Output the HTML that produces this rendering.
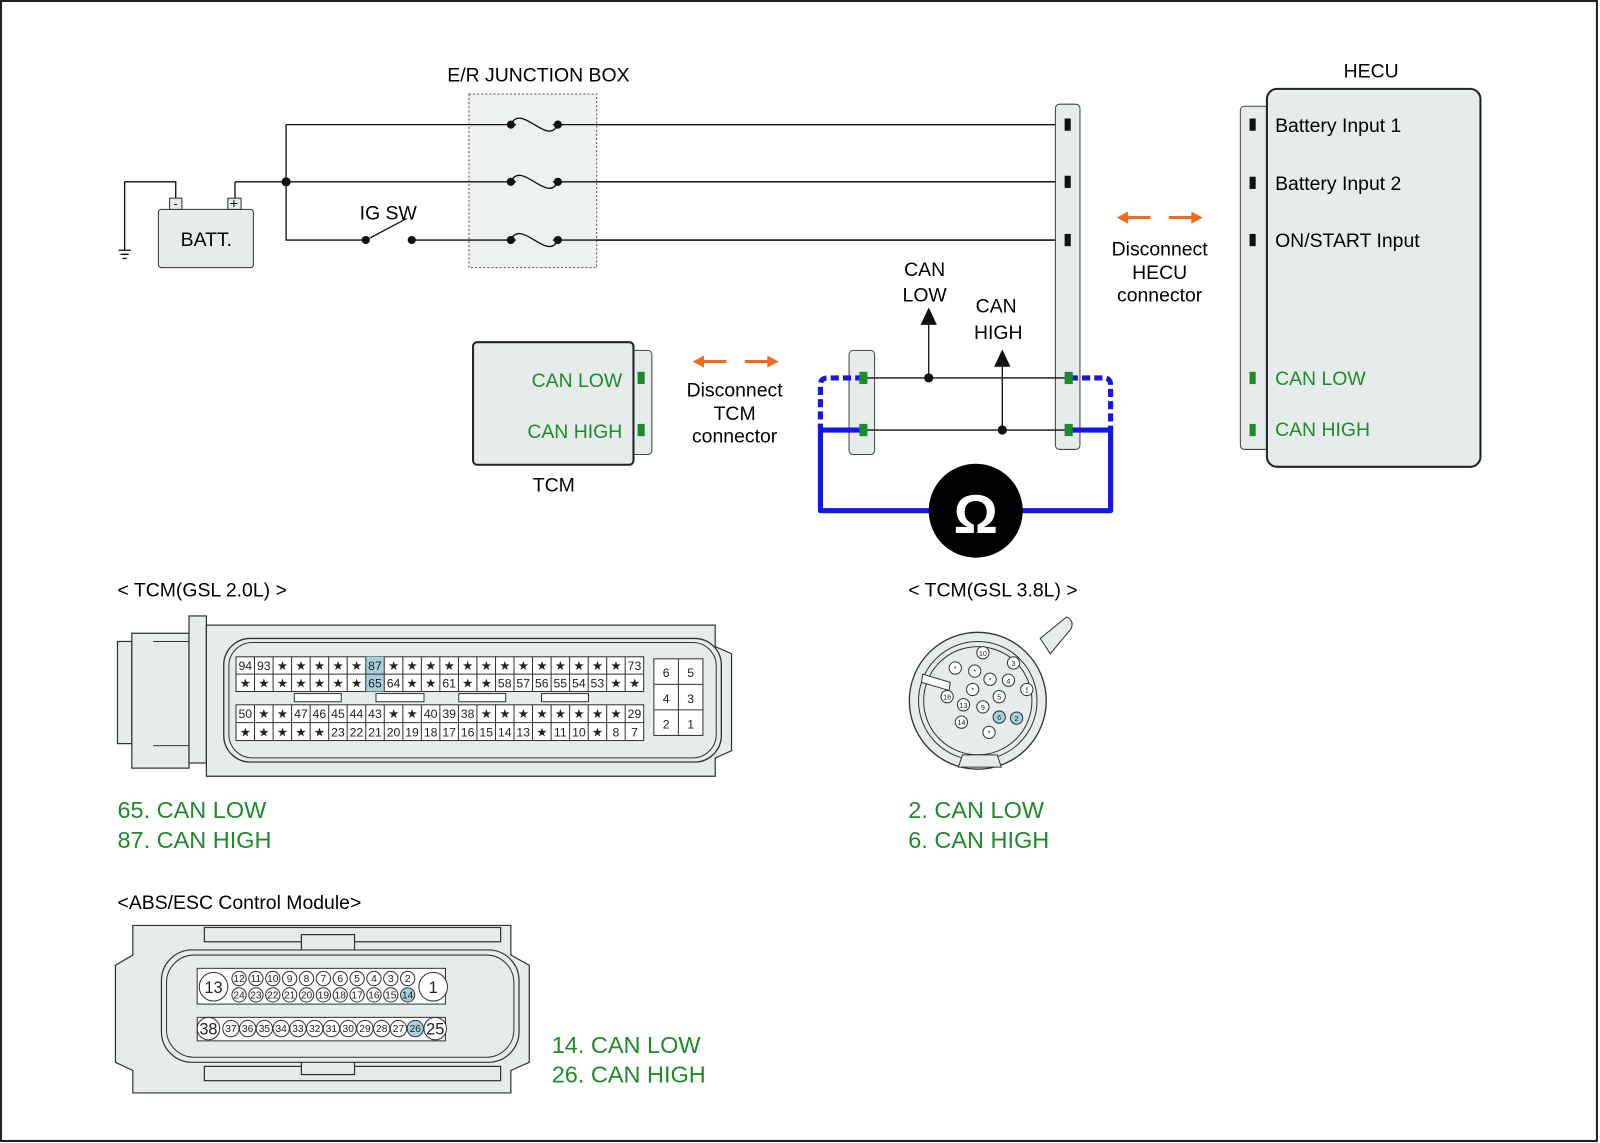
<!DOCTYPE html>
<html><head><meta charset="utf-8"><style>
html,body{margin:0;padding:0;background:#fff}
svg{display:block}
text{font-family:"Liberation Sans",sans-serif}
</style></head><body>
<svg width="1600" height="1143" viewBox="0 0 1566 1119" preserveAspectRatio="none" xmlns="http://www.w3.org/2000/svg">
<rect x="1" y="1" width="1562" height="1116" fill="#fff" stroke="#222" stroke-width="2"/>
<defs>
<marker id="ah" markerWidth="8" markerHeight="8" refX="6" refY="4" orient="auto" markerUnits="userSpaceOnUse"><path d="M0,0 L8,4 L0,8 z" fill="#f26b1d"/></marker>
</defs>
<!-- wiring top -->
<g stroke="#111" stroke-width="1.3" fill="none">
<path d="M280,122 H1035 M280,122 V235 H358 M403,235 H1035 M230,178 H1035 M230,178 V196 M172,196 V178 H122 V245"/>
<path d="M362,233 L398,214"/>
<path d="M116,245 H128 M118,249 H126 M120,253 H124"/>
</g>
<g fill="#111">
<circle cx="280" cy="178" r="4.5"/>
<circle cx="358" cy="235" r="4"/><circle cx="403" cy="235" r="4"/>
</g>
<rect x="155" y="205" width="93" height="57" rx="3" fill="#e6ecec" stroke="#333"/>
<rect x="166" y="194" width="12" height="11" fill="#e6ecec" stroke="#333"/>
<rect x="223" y="194" width="13" height="11" fill="#e6ecec" stroke="#333"/>
<text x="172" y="203" font-size="12" text-anchor="middle">-</text>
<text x="229" y="204" font-size="14" text-anchor="middle">+</text>
<text x="202" y="241" font-size="19" text-anchor="middle">BATT.</text>
<text x="380" y="215" font-size="19" text-anchor="middle">IG SW</text>
<rect x="459" y="92" width="125" height="170" fill="#eef1f1" stroke="#555" stroke-dasharray="2,2"/>
<text x="527" y="80" font-size="19" text-anchor="middle">E/R JUNCTION BOX</text>
<g stroke="#111" stroke-width="1.3" fill="none">
<path d="M459,122 H1035 M459,178 H1035 M459,235 H1035"/>
</g>
<g fill="#eef1f1"><rect x="505" y="110" width="36" height="20"/><rect x="505" y="166" width="36" height="20"/><rect x="505" y="223" width="36" height="20"/></g>
<g stroke="#111" stroke-width="1.3" fill="none">
<path d="M500,122 C510,100 536,144 546,122 M500,178 C510,156 536,200 546,178 M500,235 C510,213 536,257 546,235"/>
</g>
<g fill="#111"><circle cx="500" cy="122" r="4"/><circle cx="546" cy="122" r="4"/><circle cx="500" cy="178" r="4"/><circle cx="546" cy="178" r="4"/><circle cx="500" cy="235" r="4"/><circle cx="546" cy="235" r="4"/></g>
<!-- HECU connector strip -->
<rect x="1033" y="102" width="24" height="338" rx="4" fill="#e6ecec" stroke="#444"/>
<g fill="#111"><rect x="1042" y="116" width="6" height="12"/><rect x="1042" y="172" width="6" height="12"/><rect x="1042" y="229" width="6" height="12"/></g>
<!-- HECU -->
<text x="1342" y="76" font-size="19" text-anchor="middle">HECU</text>
<rect x="1214" y="104" width="28" height="336" rx="4" fill="#e6ecec" stroke="#444"/>
<rect x="1240" y="87" width="209" height="370" rx="10" fill="#e6ecec" stroke="#222" stroke-width="2"/>
<g fill="#111"><rect x="1223" y="116" width="6" height="12"/><rect x="1223" y="173" width="6" height="12"/><rect x="1223" y="229" width="6" height="12"/></g>
<g fill="#1e8a2a"><rect x="1223" y="364" width="6" height="12"/><rect x="1223" y="415" width="6" height="12"/></g>
<g font-size="19"><text x="1248" y="129">Battery Input 1</text><text x="1248" y="186">Battery Input 2</text><text x="1248" y="242">ON/START Input</text>
<text x="1248" y="377" fill="#1e8a2a">CAN LOW</text><text x="1248" y="427" fill="#1e8a2a">CAN HIGH</text></g>
<!-- orange arrows -->
<g stroke="#f26b1d" stroke-width="3" fill="none">
<path d="M1102,213 H1126 M1144,213 H1168" />
<path d="M687,354 H711 M729,354 H753"/>
</g>
<g fill="#f26b1d">
<path d="M1093,213 l11,-6 v12 z"/><path d="M1177,213 l-11,-6 v12 z"/>
<path d="M678,354 l11,-6 v12 z"/><path d="M762,354 l-11,-6 v12 z"/>
</g>
<g font-size="19" text-anchor="middle">
<text x="1135" y="250">Disconnect</text><text x="1135" y="273">HECU</text><text x="1135" y="295">connector</text>
<text x="719" y="388">Disconnect</text><text x="719" y="411">TCM</text><text x="719" y="433">connector</text>
<text x="905" y="270">CAN</text><text x="905" y="295">LOW</text>
<text x="975" y="306">CAN</text><text x="977" y="332">HIGH</text>
</g>
<!-- TCM -->
<rect x="618" y="343" width="20" height="102" rx="4" fill="#e6ecec" stroke="#444"/>
<rect x="463" y="335" width="157" height="120" rx="4" fill="#e6ecec" stroke="#222" stroke-width="2"/>
<g fill="#1e8a2a"><rect x="624" y="364" width="7" height="12"/><rect x="624" y="415" width="7" height="12"/></g>
<g font-size="19" fill="#1e8a2a" text-anchor="end"><text x="609" y="379">CAN LOW</text><text x="609" y="429">CAN HIGH</text></g>
<text x="542" y="481" font-size="19" text-anchor="middle">TCM</text>
<!-- middle connector -->
<rect x="831" y="343" width="25" height="102" rx="4" fill="#e6ecec" stroke="#444"/>
<!-- blue meter wiring -->
<g stroke="#1515e6" stroke-width="5" fill="none" stroke-linejoin="round">
<path d="M845,421 H803 V500 H1087 V421 H1047"/>
<path d="M845,370 H810 Q803,370 803,377 V421 M1047,370 H1080 Q1087,370 1087,377 V421" stroke-dasharray="8,4"/>
</g>
<g stroke="#111" stroke-width="1.3" fill="none"><path d="M845,370 H1047 M845,421 H1047 M909,370 V318 M981,421 V358"/></g>
<g fill="#111"><circle cx="909" cy="370" r="4.5"/><circle cx="981" cy="421" r="4.5"/>
<path d="M909,301 l-8,17 h16 z"/><path d="M981,342 l-8,17 h16 z"/></g>
<g fill="#1e8a2a"><rect x="841" y="364" width="8" height="12"/><rect x="841" y="415" width="8" height="12"/><rect x="1042" y="364" width="8" height="12"/><rect x="1042" y="415" width="8" height="12"/></g>
<circle cx="955" cy="500" r="46" fill="#000"/>
<text x="955" y="522" font-size="54" font-weight="bold" fill="#fff" text-anchor="middle" font-family="Liberation Serif,serif">Ω</text>

<!-- TCM 2.0L -->
<text x="115" y="584" font-size="19">&lt; TCM(GSL 2.0L) &gt;</text>
<g fill="#e6ecec" stroke="#333" stroke-width="1.2">
<rect x="115" y="628" width="14" height="100"/>
<path d="M129,620 H185 V752 H129 Z"/>
<rect x="185" y="603" width="17" height="144"/>
<path d="M202,612 H700 V633 L716,640 V735 L700,742 V760 H202 Z"/>
</g>
<path d="M150,628 L185,628 M150,730 L185,730" stroke="#333"/>
<rect x="219" y="625" width="487" height="121" rx="26" fill="#e6ecec" stroke="#333" stroke-width="1.3"/>
<rect x="224" y="629" width="477" height="113" rx="23" fill="none" stroke="#333"/>
<g fill="#fff" stroke="#333" stroke-width="1">
<rect x="231" y="643" width="399" height="34"/><rect x="231" y="690" width="399" height="35"/>
<rect x="640" y="645" width="48" height="75"/>
<rect x="288" y="679" width="46" height="8"/><rect x="368" y="679" width="47" height="8"/><rect x="449" y="679" width="46" height="8"/><rect x="530" y="679" width="46" height="8"/>
</g>
<rect x="358" y="643" width="18" height="34" fill="#a9cfdc"/>
<g stroke="#333" stroke-width="1" fill="none">
<path d="M231,660 H630 M231,707.5 H630 M640,670 H688 M640,695 H688 M664,645 V720"/>
<path d="M249.1,643V677M267.3,643V677M285.4,643V677M303.6,643V677M321.7,643V677M339.8,643V677M358,643V677M376.1,643V677M394.3,643V677M412.4,643V677M430.5,643V677M448.7,643V677M466.8,643V677M485,643V677M503.1,643V677M521.2,643V677M539.4,643V677M557.5,643V677M575.7,643V677M593.8,643V677M611.9,643V677"/>
<path d="M249.1,690V725M267.3,690V725M285.4,690V725M303.6,690V725M321.7,690V725M339.8,690V725M358,690V725M376.1,690V725M394.3,690V725M412.4,690V725M430.5,690V725M448.7,690V725M466.8,690V725M485,690V725M503.1,690V725M521.2,690V725M539.4,690V725M557.5,690V725M575.7,690V725M593.8,690V725M611.9,690V725"/>
</g>
<g font-size="12" text-anchor="middle" fill="#222">
<text x="240.1" y="656">94</text><text x="258.2" y="656">93</text><text x="276.4" y="656">★</text><text x="294.5" y="656">★</text><text x="312.6" y="656">★</text><text x="330.8" y="656">★</text><text x="348.9" y="656">★</text><text x="367" y="656">87</text><text x="385.2" y="656">★</text><text x="403.3" y="656">★</text><text x="421.5" y="656">★</text><text x="439.6" y="656">★</text><text x="457.7" y="656">★</text><text x="475.9" y="656">★</text><text x="494" y="656">★</text><text x="512.1" y="656">★</text><text x="530.3" y="656">★</text><text x="548.4" y="656">★</text><text x="566.6" y="656">★</text><text x="584.7" y="656">★</text><text x="602.8" y="656">★</text><text x="621" y="656">73</text>
<text x="240.1" y="673">★</text><text x="258.2" y="673">★</text><text x="276.4" y="673">★</text><text x="294.5" y="673">★</text><text x="312.6" y="673">★</text><text x="330.8" y="673">★</text><text x="348.9" y="673">★</text><text x="367" y="673">65</text><text x="385.2" y="673">64</text><text x="403.3" y="673">★</text><text x="421.5" y="673">★</text><text x="439.6" y="673">61</text><text x="457.7" y="673">★</text><text x="475.9" y="673">★</text><text x="494" y="673">58</text><text x="512.1" y="673">57</text><text x="530.3" y="673">56</text><text x="548.4" y="673">55</text><text x="566.6" y="673">54</text><text x="584.7" y="673">53</text><text x="602.8" y="673">★</text><text x="621" y="673">★</text>
<text x="240.1" y="703">50</text><text x="258.2" y="703">★</text><text x="276.4" y="703">★</text><text x="294.5" y="703">47</text><text x="312.6" y="703">46</text><text x="330.8" y="703">45</text><text x="348.9" y="703">44</text><text x="367" y="703">43</text><text x="385.2" y="703">★</text><text x="403.3" y="703">★</text><text x="421.5" y="703">40</text><text x="439.6" y="703">39</text><text x="457.7" y="703">38</text><text x="475.9" y="703">★</text><text x="494" y="703">★</text><text x="512.1" y="703">★</text><text x="530.3" y="703">★</text><text x="548.4" y="703">★</text><text x="566.6" y="703">★</text><text x="584.7" y="703">★</text><text x="602.8" y="703">★</text><text x="621" y="703">29</text>
<text x="240.1" y="721">★</text><text x="258.2" y="721">★</text><text x="276.4" y="721">★</text><text x="294.5" y="721">★</text><text x="312.6" y="721">★</text><text x="330.8" y="721">23</text><text x="348.9" y="721">22</text><text x="367" y="721">21</text><text x="385.2" y="721">20</text><text x="403.3" y="721">19</text><text x="421.5" y="721">18</text><text x="439.6" y="721">17</text><text x="457.7" y="721">16</text><text x="475.9" y="721">15</text><text x="494" y="721">14</text><text x="512.1" y="721">13</text><text x="530.3" y="721">★</text><text x="548.4" y="721">11</text><text x="566.6" y="721">10</text><text x="584.7" y="721">★</text><text x="602.8" y="721">8</text><text x="621" y="721">7</text>
<text x="652" y="663">6</text><text x="676" y="663">5</text><text x="652" y="688">4</text><text x="676" y="688">3</text><text x="652" y="713">2</text><text x="676" y="713">1</text>
</g>
<g font-size="23" fill="#1e8a2a"><text x="115" y="801">65. CAN LOW</text><text x="115" y="830">87. CAN HIGH</text>
<text x="889" y="801">2. CAN LOW</text><text x="889" y="830">6. CAN HIGH</text>
<text x="540" y="1031">14. CAN LOW</text><text x="540" y="1060">26. CAN HIGH</text></g>

<!-- TCM 3.8L -->
<text x="889" y="584" font-size="19">&lt; TCM(GSL 3.8L) &gt;</text>
<path d="M1018,625 L1044,604 Q1052,608 1048,616 L1028,640 Z" fill="#e6ecec" stroke="#333"/>
<circle cx="957" cy="686" r="67" fill="#e6ecec" stroke="#333" stroke-width="1.3"/>
<circle cx="957" cy="686" r="58" fill="#e6ecec" stroke="#333"/>
<circle cx="957" cy="686" r="53" fill="#e6ecec" stroke="#333"/>
<path d="M903,660 L930,668 L929,676 L902,668 Z" fill="#fff" stroke="#333"/>
<path d="M942,739 H976 L980,751 H938 Z" fill="#e6ecec" stroke="#333"/>
<g fill="#fff" stroke="#333" stroke-width="1">
<circle cx="962" cy="639" r="6"/><circle cx="992" cy="649" r="6"/><circle cx="935" cy="654" r="6"/><circle cx="954" cy="657" r="6"/><circle cx="969" cy="665" r="6"/><circle cx="987" cy="666" r="6"/><circle cx="1005" cy="675" r="6"/><circle cx="952" cy="675" r="6"/><circle cx="927" cy="682" r="6"/><circle cx="978" cy="682" r="6"/><circle cx="943" cy="690" r="6"/><circle cx="962" cy="692" r="6"/><circle cx="941" cy="707" r="6"/><circle cx="968" cy="717" r="6"/>
<circle cx="978" cy="702" r="6" fill="#a9cfdc"/><circle cx="995" cy="703" r="6" fill="#a9cfdc"/>
</g>
<g font-size="7" text-anchor="middle" fill="#222">
<text x="962" y="642">10</text><text x="992" y="652">3</text><text x="935" y="657">*</text><text x="954" y="660">*</text><text x="969" y="668">*</text><text x="987" y="669">4</text><text x="1005" y="678">1</text><text x="952" y="678">*</text><text x="927" y="685">16</text><text x="978" y="685">5</text><text x="943" y="693">13</text><text x="962" y="695">9</text><text x="941" y="710">14</text><text x="968" y="720">*</text><text x="978" y="705">6</text><text x="995" y="706">2</text>
</g>

<!-- ABS -->
<text x="115" y="890" font-size="19">&lt;ABS/ESC Control Module&gt;</text>
<g fill="#e6ecec" stroke="#333" stroke-width="1.2">
<path d="M130,906 H500 V935 L518,945 V1040 L500,1048 V1070 H130 V1048 L113,1040 V945 L130,935 Z"/>
<rect x="200" y="908" width="290" height="14"/>
<rect x="295" y="915" width="52" height="22"/>
<rect x="200" y="1044" width="290" height="14"/>
<rect x="295" y="1030" width="52" height="22"/>
<rect x="158" y="930" width="350" height="110" rx="30"/>
</g>
<rect x="163" y="935" width="340" height="100" rx="27" fill="none" stroke="#333"/>
<g stroke="#333" stroke-width="1" fill="#fff">
<rect x="193" y="948" width="243" height="35"/><rect x="193" y="996" width="243" height="23"/>
<circle cx="209" cy="966" r="14"/><circle cx="424" cy="966" r="14"/>
<circle cx="204" cy="1007" r="11"/><circle cx="426" cy="1007" r="11"/>
<g>
<circle cx="234" cy="958" r="7"/><circle cx="250.5" cy="958" r="7"/><circle cx="267" cy="958" r="7"/><circle cx="283.5" cy="958" r="7"/><circle cx="300" cy="958" r="7"/><circle cx="316.5" cy="958" r="7"/><circle cx="333" cy="958" r="7"/><circle cx="349.5" cy="958" r="7"/><circle cx="366" cy="958" r="7"/><circle cx="382.5" cy="958" r="7"/><circle cx="399" cy="958" r="7"/>
<circle cx="234" cy="974" r="7"/><circle cx="250.5" cy="974" r="7"/><circle cx="267" cy="974" r="7"/><circle cx="283.5" cy="974" r="7"/><circle cx="300" cy="974" r="7"/><circle cx="316.5" cy="974" r="7"/><circle cx="333" cy="974" r="7"/><circle cx="349.5" cy="974" r="7"/><circle cx="366" cy="974" r="7"/><circle cx="382.5" cy="974" r="7"/><circle cx="399" cy="974" r="7" fill="#a9cfdc"/>
<circle cx="226" cy="1007" r="8"/><circle cx="242.4" cy="1007" r="8"/><circle cx="258.8" cy="1007" r="8"/><circle cx="275.2" cy="1007" r="8"/><circle cx="291.6" cy="1007" r="8"/><circle cx="308" cy="1007" r="8"/><circle cx="324.4" cy="1007" r="8"/><circle cx="340.8" cy="1007" r="8"/><circle cx="357.2" cy="1007" r="8"/><circle cx="373.6" cy="1007" r="8"/><circle cx="390" cy="1007" r="8"/><circle cx="406.5" cy="1007" r="8" fill="#a9cfdc"/>
</g></g>
<g font-size="16" text-anchor="middle" fill="#222"><text x="209" y="972">13</text><text x="424" y="972">1</text><text x="204" y="1013">38</text><text x="426" y="1013">25</text></g>
<g font-size="10" text-anchor="middle" fill="#222">
<text x="234" y="961.5">12</text><text x="250.5" y="961.5">11</text><text x="267" y="961.5">10</text><text x="283.5" y="961.5">9</text><text x="300" y="961.5">8</text><text x="316.5" y="961.5">7</text><text x="333" y="961.5">6</text><text x="349.5" y="961.5">5</text><text x="366" y="961.5">4</text><text x="382.5" y="961.5">3</text><text x="399" y="961.5">2</text>
<text x="234" y="977.5">24</text><text x="250.5" y="977.5">23</text><text x="267" y="977.5">22</text><text x="283.5" y="977.5">21</text><text x="300" y="977.5">20</text><text x="316.5" y="977.5">19</text><text x="333" y="977.5">18</text><text x="349.5" y="977.5">17</text><text x="366" y="977.5">16</text><text x="382.5" y="977.5">15</text><text x="399" y="977.5">14</text>
<text x="226" y="1010.5">37</text><text x="242.4" y="1010.5">36</text><text x="258.8" y="1010.5">35</text><text x="275.2" y="1010.5">34</text><text x="291.6" y="1010.5">33</text><text x="308" y="1010.5">32</text><text x="324.4" y="1010.5">31</text><text x="340.8" y="1010.5">30</text><text x="357.2" y="1010.5">29</text><text x="373.6" y="1010.5">28</text><text x="390" y="1010.5">27</text><text x="406.5" y="1010.5">26</text>
</g>
</svg>
</body></html>
